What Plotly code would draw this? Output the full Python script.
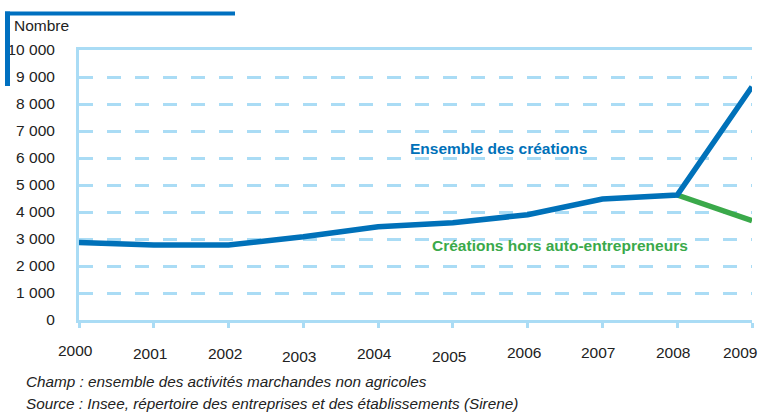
import plotly.graph_objects as go

# ---- data ----
years = [2000, 2001, 2002, 2003, 2004, 2005, 2006, 2007, 2008, 2009]
ensemble = [2870, 2780, 2780, 3080, 3450, 3600, 3900, 4480, 4630, 8640]
hors_ae = [None, None, None, None, None, None, None, None, 4630, 3680]
year_labels = ["2000", "2001", "2002", "2003", "2004", "2005", "2006", "2007", "2008", "2009"]
y_ticks = [0, 1000, 2000, 3000, 4000, 5000, 6000, 7000, 8000, 9000, 10000]
y_labels = ["0", "1 000", "2 000", "3 000", "4 000", "5 000", "6 000", "7 000", "8 000", "9 000", "10 000"]

# ---- style ----
W, H = 761, 419
L, R, T, B = 79, 752, 50, 320     # plot area in pixels
BLUE = "#0071b9"
GREEN = "#3aa94a"
LIGHT = "#aadcf5"
DARK = "#0070c0"
TXT = "#222222"
FONT = "Liberation Sans, Arial, sans-serif"
label_yshift = [-30, -33, -33, -36, -33, -36, -32, -32, -32, -32]
label_xshift = [-4, -4, -4, -4, -4, -4, -4, -4, -4, -12]


def px(x):
    return (x - L) / (R - L)


def py(y):
    return (B - y) / (B - T)


fig = go.Figure()
fig.add_trace(go.Scatter(x=years, y=hors_ae, mode="lines",
                         line=dict(color=GREEN, width=5.5), hoverinfo="skip",
                         showlegend=False))
fig.add_trace(go.Scatter(x=years, y=ensemble, mode="lines",
                         line=dict(color=BLUE, width=5.5), hoverinfo="skip",
                         showlegend=False))

annotations = []
for yr, lab, ys, xs in zip(years, year_labels, label_yshift, label_xshift):
    annotations.append(dict(x=yr, xref="x", y=0, yref="paper", text=lab,
                            showarrow=False, xanchor="center", yanchor="middle",
                            xshift=xs, yshift=ys,
                            font=dict(family=FONT, size=15.5, color=TXT)))

annotations += [
    dict(x=px(12), y=py(25), xref="paper", yref="paper", text="Nombre",
         showarrow=False, xanchor="left", yanchor="middle",
         font=dict(family=FONT, size=15.5, color=TXT)),
    dict(x=px(408), y=py(148), xref="paper", yref="paper",
         text="<b>Ensemble des créations</b>", showarrow=False,
         xanchor="left", yanchor="middle",
         font=dict(family=FONT, size=15.5, color=BLUE)),
    dict(x=px(430), y=py(246), xref="paper", yref="paper",
         text="<b>Créations hors auto-entrepreneurs</b>", showarrow=False,
         xanchor="left", yanchor="middle",
         font=dict(family=FONT, size=15.5, color=GREEN)),
    dict(x=px(24), y=py(381), xref="paper", yref="paper",
         text="<i>Champ : ensemble des activités marchandes non agricoles</i>",
         showarrow=False, xanchor="left", yanchor="middle",
         font=dict(family=FONT, size=15.3, color=TXT)),
    dict(x=px(24), y=py(403), xref="paper", yref="paper",
         text="<i>Source : Insee, répertoire des entreprises et des établissements (Sirene)</i>",
         showarrow=False, xanchor="left", yanchor="middle",
         font=dict(family=FONT, size=15.3, color=TXT)),
]

shapes = [
    dict(type="line", xref="paper", yref="paper", x0=px(5), x1=px(235),
         y0=py(13.5), y1=py(13.5), line=dict(color=DARK, width=4)),
    dict(type="line", xref="paper", yref="paper", x0=px(7.5), x1=px(7.5),
         y0=py(11.5), y1=py(86), line=dict(color=DARK, width=5)),
]

fig.update_layout(
    width=W, height=H, autosize=False,
    margin=dict(l=L, r=W - R, t=T, b=H - B, pad=0),
    paper_bgcolor="white", plot_bgcolor="white",
    annotations=annotations, shapes=shapes,
    xaxis=dict(range=[2000, 2009], tickvals=years, ticktext=[""] * len(years),
               showgrid=False, zeroline=False, showline=True, mirror=True,
               linecolor=LIGHT, linewidth=3, ticks="outside", ticklen=5,
               tickwidth=3, tickcolor=LIGHT, fixedrange=True, automargin=False),
    yaxis=dict(range=[0, 10000], tickvals=y_ticks, ticktext=y_labels,
               showgrid=True, gridcolor=LIGHT, gridwidth=2.5, griddash="14px,14px",
               zeroline=False, showline=True, linecolor=LIGHT, linewidth=3,
               ticks="", ticklabelstandoff=18, automargin=False,
               tickfont=dict(family=FONT, size=15.5, color=TXT), fixedrange=True),
)

fig.write_html(
    "out.html",
    config={"displayModeBar": False},
    post_script="document.body.style.margin='0';document.body.style.overflow='hidden';",
)
